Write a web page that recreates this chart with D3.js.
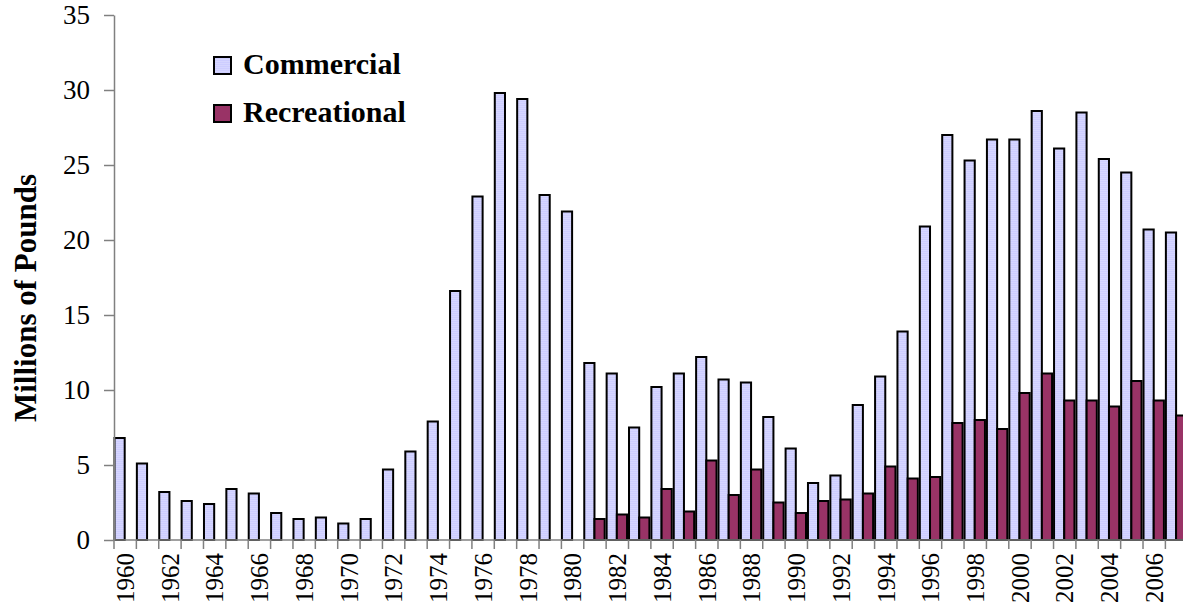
<!DOCTYPE html>
<html>
<head>
<meta charset="utf-8">
<script src="https://cdn.jsdelivr.net/npm/d3@7"></script>
<style>
  body { margin: 0; background: #fff; }
  svg { display: block; font-family: "Liberation Serif", "Times New Roman", serif; }
  .axis path, .axis line { stroke: #808080; stroke-width: 1.5; }
  .axis text { fill: #000; font-family: "Liberation Serif", "Times New Roman", serif; }
</style>
</head>
<body>
<svg class="chart" width="1183" height="610"></svg>
<script>
var years = d3.range(1960, 2008);

var commercial = [6.8, 5.1, 3.2, 2.6, 2.4, 3.4, 3.1, 1.8, 1.4, 1.5,
                  1.1, 1.4, 4.7, 5.9, 7.9, 16.6, 22.9, 29.8, 29.4, 23.0,
                  21.9, 11.8, 11.1, 7.5, 10.2, 11.1, 12.2, 10.7, 10.5, 8.2,
                  6.1, 3.8, 4.3, 9.0, 10.9, 13.9, 20.9, 27.0, 25.3, 26.7,
                  26.7, 28.6, 26.1, 28.5, 25.4, 24.5, 20.7, 20.5];

var recreational = [null, null, null, null, null, null, null, null, null, null,
                    null, null, null, null, null, null, null, null, null, null,
                    null, 1.4, 1.7, 1.5, 3.4, 1.9, 5.3, 3.0, 4.7, 2.5,
                    1.8, 2.6, 2.7, 3.1, 4.9, 4.1, 4.2, 7.8, 8.0, 7.4,
                    9.8, 11.1, 9.3, 9.3, 8.9, 10.6, 9.3, 8.3];

var seriesNames = ["Commercial", "Recreational"];
var seriesColors = ["url(#stripes)", "#993366"];
var yTicks = [0, 5, 10, 15, 20, 25, 30, 35];

(function() {
  var svg = d3.select(".chart");

  var left = 114, top = 15, bottom = 540,
      band = 22.37,
      right = left + band * years.length;

  // light lavender fill with faint horizontal lines
  var pat = svg.append("defs").append("pattern")
    .attr("id", "stripes")
    .attr("patternUnits", "userSpaceOnUse")
    .attr("width", 4).attr("height", 2);
  pat.append("rect").attr("width", 4).attr("height", 2).attr("fill", "#cdcdff");
  pat.append("rect").attr("width", 4).attr("height", 1).attr("fill", "#d6d6ff");

  var xScale = d3.scaleBand()
    .domain(years)
    .range([left, right])
    .padding(0);

  var subScale = d3.scaleBand()
    .domain(seriesNames)
    .range([0.5, 20.9]);

  var yScale = d3.scaleLinear()
    .domain([0, 35])
    .range([bottom, top]);

  var data = years.map(function(y, i) {
    return {year: y, values: [commercial[i], recreational[i]]};
  });

  // bars
  var group = svg.selectAll("g.year")
    .data(data)
    .enter().append("g")
    .attr("class", "year")
    .attr("transform", function(d) { return "translate(" + xScale(d.year) + ",0)"; });

  group.selectAll("rect")
    .data(function(d) {
      return d.values.map(function(v, k) { return {name: seriesNames[k], value: v, k: k}; })
        .filter(function(e) { return e.value != null; });
    })
    .enter().append("rect")
    .attr("x", function(d) { return subScale(d.name); })
    .attr("width", subScale.bandwidth())
    .attr("y", function(d) { return yScale(d.value); })
    .attr("height", function(d) { return bottom - yScale(d.value); })
    .attr("fill", function(d) { return seriesColors[d.k]; })
    .attr("stroke", "#000")
    .attr("stroke-width", 2);

  // y axis
  var yAxis = d3.axisLeft(yScale)
    .tickValues(yTicks)
    .tickSize(10)
    .tickPadding(14)
    .tickSizeOuter(0);

  svg.append("g")
    .attr("class", "axis")
    .attr("transform", "translate(" + left + ",0)")
    .call(yAxis)
    .selectAll("text")
    .style("font-size", "27px");

  // x axis: baseline with ticks between the year groups
  var xAxisG = svg.append("g").attr("class", "axis");
  xAxisG.append("line")
    .attr("x1", left).attr("x2", right)
    .attr("y1", bottom).attr("y2", bottom);
  xAxisG.selectAll("line.tick")
    .data(years)
    .enter().append("line")
    .attr("class", "tick")
    .attr("x1", function(d) { return xScale(d); })
    .attr("x2", function(d) { return xScale(d); })
    .attr("y1", bottom).attr("y2", bottom + 9);

  xAxisG.selectAll("text")
    .data(years.filter(function(d) { return d % 2 === 0; }))
    .enter().append("text")
    .attr("transform", function(d) {
      return "translate(" + (xScale(d) + xScale.bandwidth() / 2) + "," + (bottom + 13) + ") rotate(-90)";
    })
    .attr("dy", "0.35em")
    .style("text-anchor", "end")
    .style("font-size", "25px")
    .text(function(d) { return d; });

  // y axis title
  svg.append("text")
    .attr("transform", "translate(25,298) rotate(-90)")
    .attr("dy", "0.35em")
    .style("text-anchor", "middle")
    .style("font-weight", "bold")
    .style("font-size", "31px")
    .text("Millions of Pounds");

  // legend
  var legend = svg.selectAll("g.legend")
    .data(seriesNames)
    .enter().append("g")
    .attr("class", "legend")
    .attr("transform", function(d, i) { return "translate(214," + (57 + i * 48) + ")"; });

  legend.append("rect")
    .attr("width", 17).attr("height", 17)
    .attr("fill", function(d, i) { return seriesColors[i]; })
    .attr("stroke", "#000")
    .attr("stroke-width", 2);

  legend.append("text")
    .attr("x", 29)
    .attr("y", 17)
    .style("font-weight", "bold")
    .style("font-size", "30px")
    .text(function(d) { return d; });
})();
</script>
</body>
</html>
